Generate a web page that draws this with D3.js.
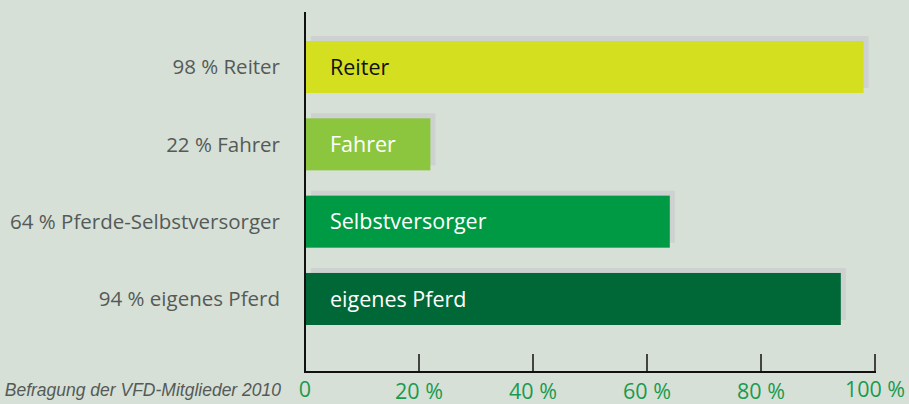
<!DOCTYPE html>
<html>
<head>
<meta charset="utf-8">
<script src="https://cdn.jsdelivr.net/npm/d3@7"></script>
<style>
  html, body { margin: 0; padding: 0; background: #d6e0d7; }
  svg { display: block; }
</style>
</head>
<body>
<div id="chart"></div>
<script>
// Survey shares (percent), top to bottom
const categories = ['Reiter', 'Fahrer', 'Selbstversorger', 'eigenes Pferd'];
const sideLabels = ['98 % Reiter', '22 % Fahrer', '64 % Pferde-Selbstversorger', '94 % eigenes Pferd'];
const values = [98, 22, 64, 94];
const barColors = ['#d4df20', '#8cc63f', '#009944', '#006837'];
const barTextColors = ['#111', '#fff', '#fff', '#fff'];
const ticks = [0, 20, 40, 60, 80, 100];
const tickLabels = ['0', '20 %', '40 %', '60 %', '80 %', '100 %'];
const footnote = 'Befragung der VFD-Mitglieder 2010';

const W = 909, H = 404;
const margin = { top: 12, left: 305 };

const svg = d3.select('#chart').append('svg')
  .attr('width', W).attr('height', H);

svg.append('rect').attr('width', W).attr('height', H).attr('fill', '#d6e0d7');

const x = d3.scaleLinear().domain([0, 100]).range([margin.left, 875]);
const y = d3.scaleBand().domain(categories).range([41, 325]).paddingInner(0.327).paddingOuter(0);

// ── shadows ────────────────────────────────────
svg.selectAll('.shadow').data(categories)
  .join('rect')
  .attr('class', 'shadow')
  .attr('x', x(0) + 6)
  .attr('y', d => y(d) - 5)
  .attr('width', (d, i) => x(values[i]) - x(0) - 1)
  .attr('height', y.bandwidth())
  .attr('fill', '#cdd1cf');

// ── bars ───────────────────────────────────────
svg.selectAll('.bar').data(categories)
  .join('rect')
  .attr('class', 'bar')
  .attr('x', x(0))
  .attr('y', d => y(d))
  .attr('width', (d, i) => x(values[i]) - x(0))
  .attr('height', y.bandwidth())
  .attr('fill', (d, i) => barColors[i]);

// text inside bars
svg.selectAll('.inlabel').data(categories)
  .join('text')
  .attr('x', x(0) + 25)
  .attr('y', d => y(d) + y.bandwidth() / 2)
  .attr('dy', '0.36em')
  .attr('fill', (d, i) => barTextColors[i])
  .attr('font-family', '"Open Sans", sans-serif')
  .attr('font-size', '21.5px')
  .text(d => d);

// labels left of axis
svg.selectAll('.sidelabel').data(categories)
  .join('text')
  .attr('x', 280)
  .attr('y', d => y(d) + y.bandwidth() / 2)
  .attr('dy', '0.36em')
  .attr('text-anchor', 'end')
  .attr('fill', '#555a57')
  .attr('font-family', '"Open Sans", sans-serif')
  .attr('font-size', '20.5px')
  .text((d, i) => sideLabels[i]);

// ── axes ───────────────────────────────────────
const axisY = 372;
svg.append('line')
  .attr('x1', x(0)).attr('x2', x(0))
  .attr('y1', margin.top).attr('y2', axisY)
  .attr('stroke', '#111').attr('stroke-width', 2);

svg.append('line')
  .attr('x1', x(0) - 1).attr('x2', x(100) + 1)
  .attr('y1', axisY).attr('y2', axisY)
  .attr('stroke', '#111').attr('stroke-width', 2);

svg.selectAll('.tick').data(ticks.slice(1))
  .join('line')
  .attr('x1', d => x(d)).attr('x2', d => x(d))
  .attr('y1', axisY - 18).attr('y2', axisY)
  .attr('stroke', '#111').attr('stroke-width', 1.5);

svg.selectAll('.ticklabel').data(ticks)
  .join('text')
  .attr('x', d => x(d))
  .attr('y', (d, i) => (i === 0 || i === ticks.length - 1) ? 397 : 399)
  .attr('text-anchor', 'middle')
  .attr('fill', '#1a9a4e')
  .attr('font-family', '"Liberation Sans Narrow", "Open Sans", sans-serif')
  .attr('font-size', '21.5px')
  .text((d, i) => tickLabels[i]);

// footnote
svg.append('text')
  .attr('x', 281)
  .attr('y', 396)
  .attr('text-anchor', 'end')
  .attr('fill', '#555a57')
  .attr('font-family', '"Liberation Sans Narrow", "Liberation Sans", sans-serif')
  .attr('font-style', 'italic')
  .attr('font-size', '17.5px')
  .text(footnote);
</script>
</body>
</html>
